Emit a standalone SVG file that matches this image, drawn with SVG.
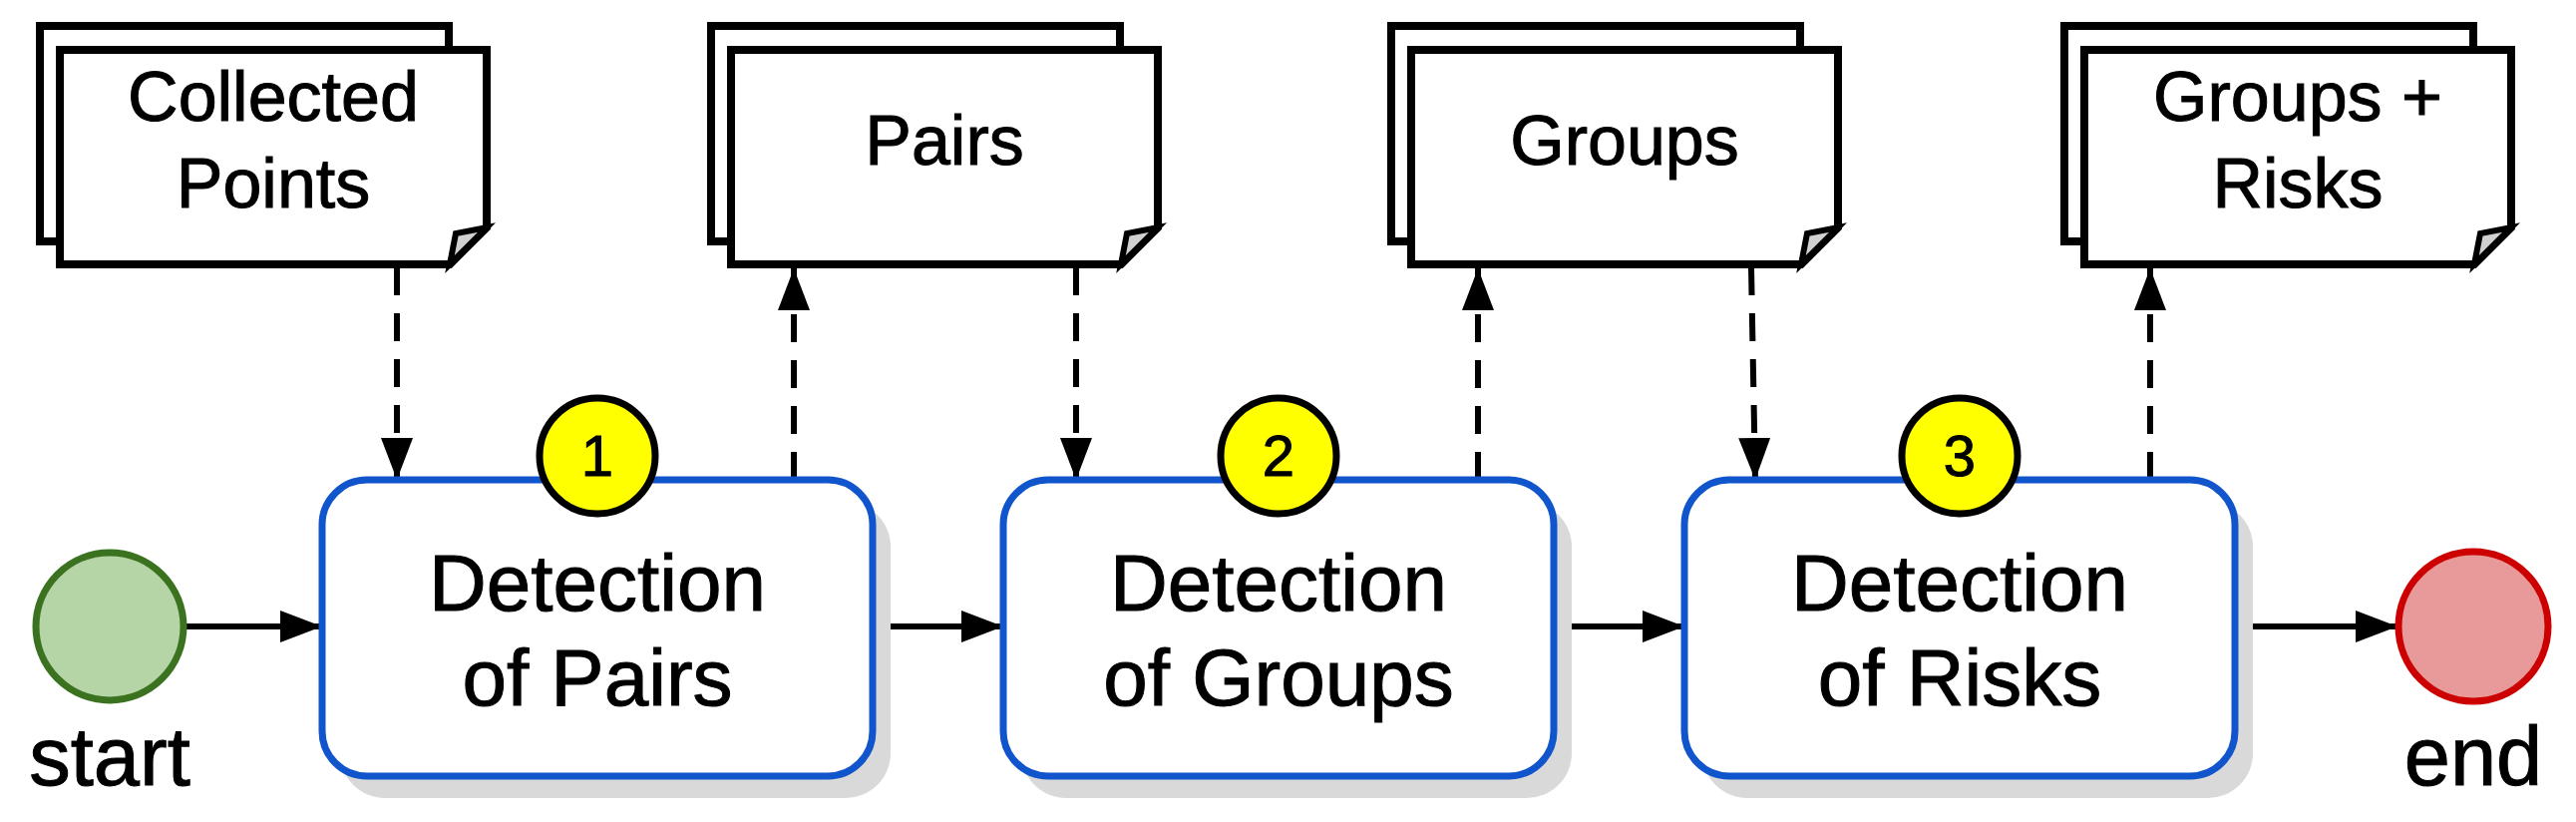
<svg xmlns="http://www.w3.org/2000/svg" width="2583" height="824" viewBox="0 0 2583 824">
<style>
text{font-family:"Liberation Sans",Arial,sans-serif;fill:#000;text-anchor:middle;stroke:#000;stroke-width:1}
.doc{fill:#fff;stroke:#000;stroke-width:8;stroke-linejoin:miter}
.fold{fill:#d0d0d0;stroke:#000;stroke-width:6}
.box{fill:#fff;stroke:#1155cc;stroke-width:7}
.sh{fill:#d9d9d9}
.badge{fill:#ffff00;stroke:#000;stroke-width:7}
.flow{stroke:#000;stroke-width:6;fill:none}
.assoc{stroke:#000;stroke-width:6;fill:none;stroke-dasharray:28 18}
.dt{font-size:70px}
.bt{font-size:80px}
</style>
<defs>
<marker id="ah" markerWidth="42" markerHeight="32" refX="42" refY="16" orient="auto" markerUnits="userSpaceOnUse"><path d="M0,0 L42,16 L0,32 Z" fill="#000"/></marker>
<g id="docshape">
<rect class="doc" x="-20" y="-24" width="410" height="216"/>
<path class="doc" d="M0,0 H428 V178 L391,215 H0 Z"/>
<path class="fold" d="M391,215 L397,184 L428,178 Z"/>
</g>
</defs>
<g id="connectors">
<path class="flow" d="M185,628 H323" marker-end="url(#ah)"/>
<path class="flow" d="M875,628 H1006" marker-end="url(#ah)"/>
<path class="flow" d="M1558,628 H1689" marker-end="url(#ah)"/>
<path class="flow" d="M2241,628 H2404" marker-end="url(#ah)"/>
<path class="assoc" d="M398,268 V481" marker-end="url(#ah)"/>
<path class="assoc" d="M796,481 V269" marker-end="url(#ah)"/>
<path class="assoc" d="M1079,268 V481" marker-end="url(#ah)"/>
<path class="assoc" d="M1482,481 V269" marker-end="url(#ah)"/>
<path class="assoc" d="M1756,268 L1760,481" marker-end="url(#ah)"/>
<path class="assoc" d="M2156,481 V269" marker-end="url(#ah)"/>
</g>
<g id="start">
<circle cx="110" cy="628" r="74" fill="#b5d5a6" stroke="#3a7220" stroke-width="7"/>
<text x="110" y="787" style="font-size:83px">start</text>
</g>
<g id="end">
<circle cx="2480" cy="628" r="75" fill="#e89a9a" stroke="#cc0000" stroke-width="7"/>
<text x="2480" y="787" style="font-size:83px">end</text>
</g>
<g id="doc1"><use href="#docshape" x="60" y="50"/><text class="dt" x="274" y="121">Collected</text><text class="dt" x="274" y="208">Points</text></g>
<g id="doc2"><use href="#docshape" x="733" y="50"/><text class="dt" x="947" y="165">Pairs</text></g>
<g id="doc3"><use href="#docshape" x="1415" y="50"/><text class="dt" x="1629" y="165">Groups</text></g>
<g id="doc4"><use href="#docshape" x="2090" y="50"/><text class="dt" x="2304" y="121">Groups +</text><text class="dt" x="2304" y="208">Risks</text></g>
<g id="task1">
<rect class="sh" x="341" y="503" width="552" height="297" rx="45"/>
<rect class="box" x="323" y="481" width="552" height="297" rx="45"/>
<text class="bt" x="599" y="612">Detection</text><text class="bt" x="599" y="707">of Pairs</text>
<circle class="badge" cx="599" cy="457" r="58"/><text x="599" y="477" style="font-size:58px">1</text>
</g>
<g id="task2">
<rect class="sh" x="1024" y="503" width="552" height="297" rx="45"/>
<rect class="box" x="1006" y="481" width="552" height="297" rx="45"/>
<text class="bt" x="1282" y="612">Detection</text><text class="bt" x="1282" y="707">of Groups</text>
<circle class="badge" cx="1282" cy="457" r="58"/><text x="1282" y="477" style="font-size:58px">2</text>
</g>
<g id="task3">
<rect class="sh" x="1707" y="503" width="552" height="297" rx="45"/>
<rect class="box" x="1689" y="481" width="552" height="297" rx="45"/>
<text class="bt" x="1965" y="612">Detection</text><text class="bt" x="1965" y="707">of Risks</text>
<circle class="badge" cx="1965" cy="457" r="58"/><text x="1965" y="477" style="font-size:58px">3</text>
</g>
</svg>
